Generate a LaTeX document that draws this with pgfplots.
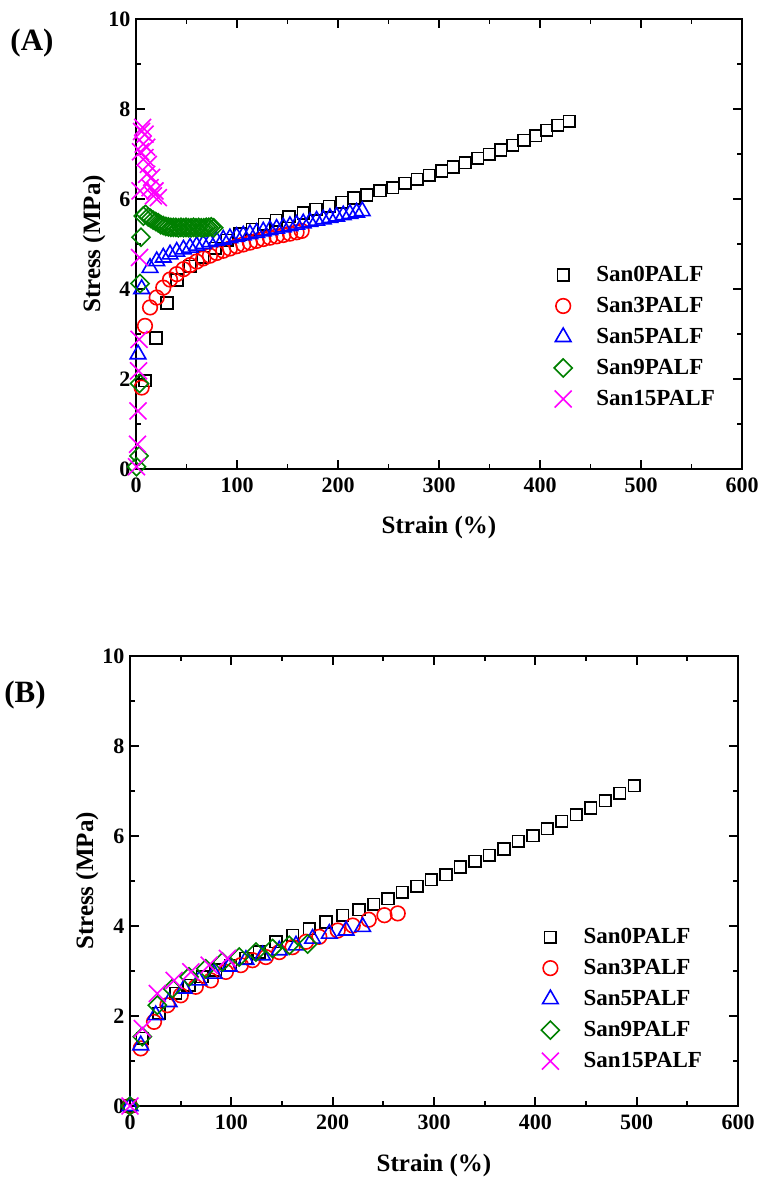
\documentclass[border=0pt]{standalone}
\usepackage{fontspec}
\setmainfont{Liberation Serif}
\usepackage{pgfplots}
\pgfplotsset{compat=1.18}
\definecolor{mygreen}{RGB}{0,128,0}
\definecolor{mymag}{RGB}{255,0,255}
\newcommand{\tickfont}{\fontsize{22}{22}\selectfont\bfseries}
\newcommand{\labfont}{\fontsize{25}{25}\selectfont\bfseries}
\newcommand{\legfont}{\fontsize{23}{23}\selectfont\bfseries}
\newcommand{\panfont}{\fontsize{31}{31}\selectfont\bfseries}
\pgfplotsset{
  myaxis/.style={
    scale only axis, anchor=south west,
    xmin=0, xmax=600, ymin=0, ymax=10,
    xtick={0,100,...,600}, ytick={0,2,...,10},
    minor x tick num=1, minor y tick num=1,
    tick align=inside,
    major tick length=9pt, minor tick length=5pt,
    every tick/.style={black, line width=1.8pt},
    axis line style={line width=2.6pt},
    /pgf/number format/assume math mode=true,
    tick label style={font=\tickfont},
    xticklabel style={yshift=-5pt},
    yticklabel style={xshift=-2pt},
    label style={font=\labfont},
    xlabel={Strain (\%)},
    ylabel={Stress (MPa)},
    clip=false,
    legend cell align=left,
    legend image code/.code={\path (0pt,0pt) (56pt,0pt);
      \draw[mark repeat=2,mark phase=2] plot coordinates {(0pt,0pt) (25pt,0pt) (50pt,0pt)};},
  },
  s0/.style={only marks, mark=square, mark size=5.8pt, black, mark options={line width=1.6pt}},
  s3/.style={only marks, mark=o, mark size=7.3pt, red, mark options={line width=1.6pt}},
  s5/.style={only marks, mark=triangle, mark size=9pt, blue, mark options={line width=1.6pt}},
  s9/.style={only marks, mark=square, mark size=6.4pt, mygreen, mark options={line width=1.6pt, rotate=45}},
  s15/.style={only marks, mark=x, mark size=12pt, mymag, mark options={line width=1.6pt}},
}
\begin{document}
\begin{tikzpicture}
\useasboundingbox (0,0) rectangle (759pt,1180pt);
\node[font=\panfont] at (32pt,1137pt) {(A)};
\node[font=\panfont] at (25pt,485pt) {(B)};
% ---------------- Panel A
\begin{axis}[myaxis,
  at={(136pt,711pt)}, width=606pt, height=450pt,
  xlabel style={at={(axis description cs:0.5,-0.129)}, anchor=center},
  ylabel style={at={(axis description cs:-0.0693,0.5)}, anchor=center},
  legend style={draw=none, fill=none, inner sep=0pt, outer sep=0pt,
    at={(axis cs:398,4.589)}, anchor=north west, row sep=6pt, font=\legfont,
    nodes={inner sep=2pt, text height=17pt, text depth=4pt}},
]
\addplot[s0] coordinates {
(8.9,1.96) (19.8,2.91) (30.7,3.69) (40.6,4.20) (53.5,4.50) (66,4.70) (78.5,4.90)
(90.5,5.08) (103,5.22) (115,5.33) (127,5.44) (139,5.53) (151.5,5.61) (165.6,5.69)
(178.2,5.77) (191.4,5.84) (203.6,5.93) (215.8,6.02) (228.3,6.09) (241.5,6.18)
(254.1,6.25) (266.3,6.35) (278.5,6.44) (290.3,6.53) (302.6,6.62) (314.1,6.71)
(326.0,6.81) (338.2,6.90) (349.8,6.99) (361.0,7.09) (372.9,7.19) (384.1,7.30)
(395.7,7.41) (406.6,7.53) (417.5,7.64) (429.0,7.73)};
\addlegendentry{San0PALF}
\addplot[s3] coordinates {
(5.6,1.81) (8.9,3.18) (13.9,3.59) (20.5,3.81) (27,4.03) (33.7,4.21) (40.3,4.33)
(47,4.44) (53.5,4.53) (60,4.61) (66.6,4.68) (73.2,4.74) (79.8,4.80) (86.4,4.85)
(93,4.90) (99.6,4.95) (106.2,4.99) (112.8,5.03) (119.4,5.07) (126,5.11)
(132.6,5.14) (139.2,5.17) (145.8,5.20) (152.4,5.23) (159,5.26) (164,5.29)};
\addlegendentry{San3PALF}
\addplot[s5] coordinates {
(2,2.55) (5.6,4.0) (13.9,4.47) (20.5,4.62) (27,4.70) (33.7,4.77) (40.3,4.83)
(47,4.88) (53.5,4.92) (60,4.96) (66.6,5.00) (73.2,5.04) (79.8,5.07) (86.4,5.10)
(93,5.13) (99.6,5.16) (106.2,5.19) (112.8,5.22) (119.4,5.25) (126,5.28)
(132.6,5.31) (139.2,5.34) (145.8,5.37) (152.4,5.40) (159,5.43) (165.6,5.46)
(172.2,5.49) (178.8,5.52) (185.4,5.55) (192,5.58) (198.6,5.61) (205.2,5.64)
(211.8,5.67) (218.4,5.70) (224,5.73)};
\addlegendentry{San5PALF}
\addplot[s9] coordinates {
(0.5,0.05) (3,0.29) (3.5,1.9) (4,4.12) (5,5.15) (7.2,5.62) (9.5,5.66) (12.1,5.60)
(14.5,5.57) (17,5.53) (19.5,5.50) (22,5.47) (24.5,5.43) (27,5.41) (29.5,5.39)
(32,5.38) (34.5,5.37) (37,5.37) (39.5,5.37) (42,5.36) (44.5,5.37) (47,5.36)
(49.5,5.37) (52,5.36) (54.5,5.36) (57,5.37) (59.5,5.36) (62,5.37) (64.5,5.36)
(67,5.36) (69.5,5.37) (72,5.37) (74.5,5.38) (77,5.36)};
\addlegendentry{San9PALF}
\addplot[s15] coordinates {
(0.5,0.05) (1.5,0.55) (2,1.29) (2.5,2.18) (3,2.88) (3.5,4.7) (4,6.18) (4.5,7.05)
(5.5,7.5) (6.6,7.59) (7.2,7.22) (8.9,7.44) (8.9,6.92) (10.6,7.15) (10.6,6.55)
(12.2,6.77) (13.9,6.25) (15.5,6.48) (17.2,6.07) (18.8,6.18) (22.1,6.03)};
\addlegendentry{San15PALF}
\end{axis}
% ---------------- Panel B
\begin{axis}[myaxis,
  at={(130pt,74pt)}, width=608pt, height=450pt,
  xlabel style={at={(axis description cs:0.5,-0.133)}, anchor=center},
  ylabel style={at={(axis description cs:-0.0707,0.5)}, anchor=center},
  legend style={draw=none, fill=none, inner sep=0pt, outer sep=0pt,
    at={(axis cs:390,4.03)}, anchor=north west, row sep=6pt, font=\legfont,
    nodes={inner sep=2pt, text height=17pt, text depth=4pt}},
]
\addplot[s0] coordinates {
(0,0) (12.2,1.5) (28.7,2.06) (45.2,2.5) (58.3,2.68) (71.5,2.87) (84.7,3.02)
(99.5,3.13) (114.4,3.28) (127.5,3.42) (144,3.65) (160.4,3.79) (176.9,3.94)
(193.4,4.09) (209.9,4.24) (226,4.36) (240.3,4.48) (254.6,4.61) (268.9,4.75)
(283.2,4.88) (297.5,5.03) (311.8,5.14) (326.1,5.31) (340.4,5.44) (354.7,5.57)
(369,5.71) (383.3,5.88) (397.6,6.01) (411.9,6.16) (426.2,6.33) (440.5,6.47)
(454.8,6.62) (469.1,6.78) (483.4,6.95) (497.7,7.12)};
\addlegendentry{San0PALF}
\addplot[s3] coordinates {
(0,0) (10.6,1.28) (23.7,1.87) (36.9,2.24) (50.1,2.46) (64.9,2.65) (79.8,2.79)
(94.6,2.98) (109.4,3.13) (120.9,3.24) (134.1,3.31) (147.3,3.42) (160.4,3.53)
(173.7,3.65) (186.8,3.76) (205,3.9) (219.8,4.01) (235.6,4.14) (251.1,4.24)
(264.2,4.28)};
\addlegendentry{San3PALF}
\addplot[s5] coordinates {
(0,0) (10.6,1.35) (25.4,2.02) (38.6,2.31) (53.4,2.61) (68.2,2.79) (83,2.94)
(97.9,3.1) (114.4,3.25) (130.8,3.35) (147.3,3.46) (163.8,3.57) (180.2,3.72)
(196.7,3.83) (213.2,3.9) (229.6,3.98)};
\addlegendentry{San5PALF}
\addplot[s9] coordinates {
(0,0) (12.2,1.54) (27,2.24) (41.8,2.61) (58.3,2.87) (74.8,3.05) (91.2,3.2)
(107.7,3.31) (124.3,3.42) (140.7,3.5) (157.2,3.57) (175.3,3.6)};
\addlegendentry{San9PALF}
\addplot[s15] coordinates {
(0,0) (12.2,1.72) (27,2.5) (43.5,2.79) (60,2.98) (78.1,3.13) (96.2,3.28)};
\addlegendentry{San15PALF}
\end{axis}
\end{tikzpicture}
\end{document}
